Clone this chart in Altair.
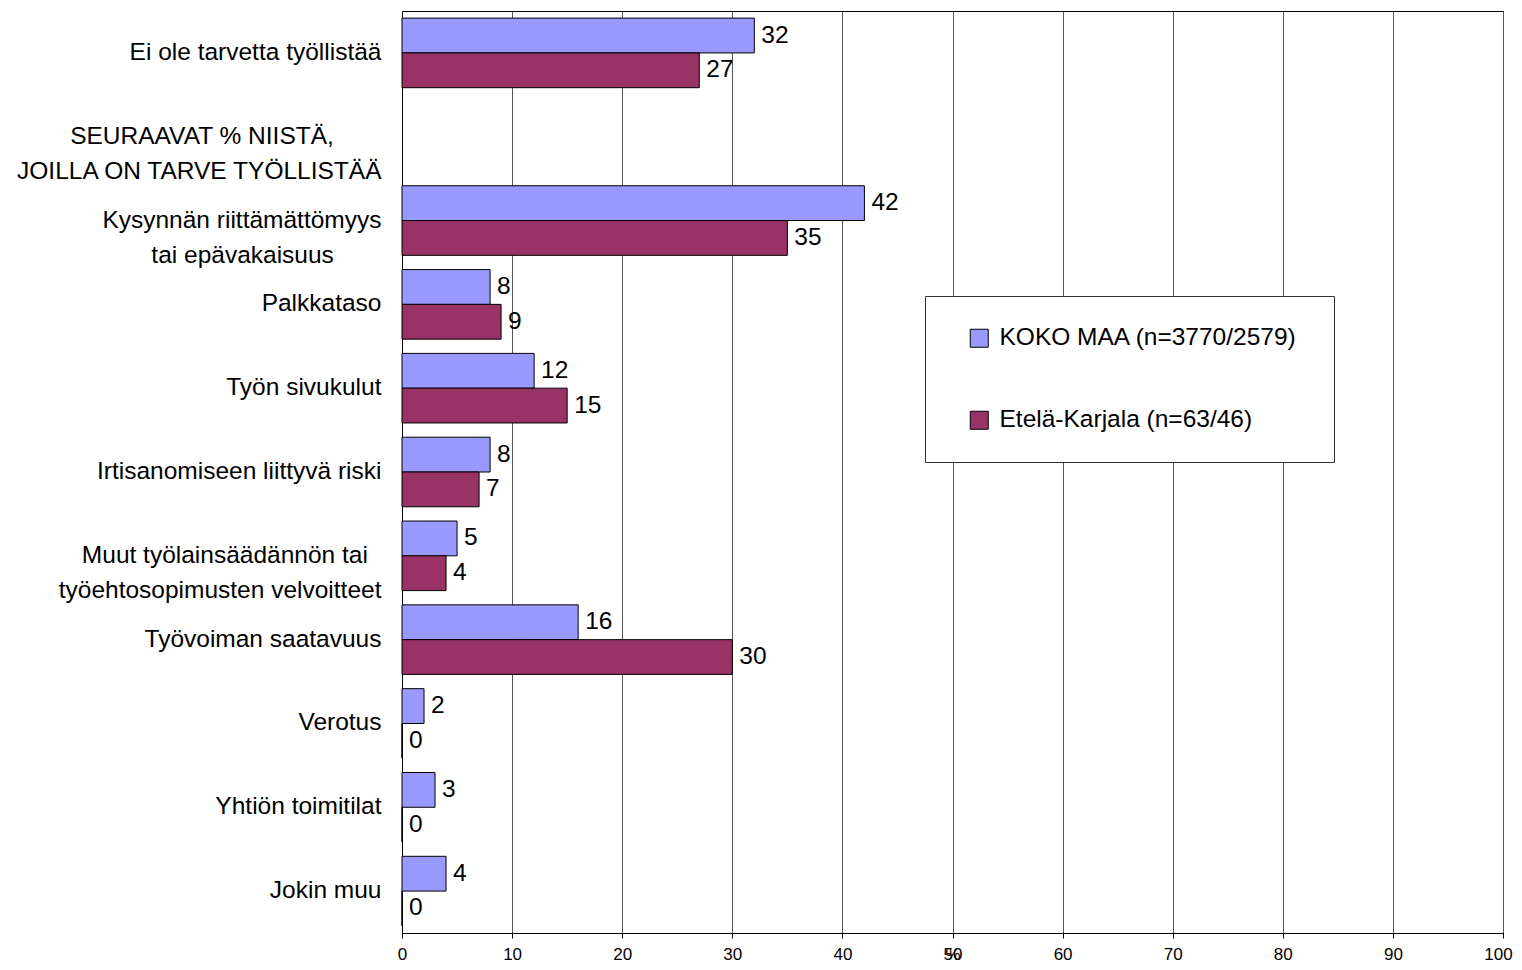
import altair as alt
import pandas as pd

NB = "\u00a0"
ZW = "\u200b"

categories = [
    "Ei ole tarvetta työllistää",
    "SEURAAVAT % NIISTÄ," + NB * 7 + ZW + "|JOILLA ON TARVE TYÖLLISTÄÄ",
    "Kysynnän riittämättömyys|tai epävakaisuus" + NB * 7 + ZW,
    "Palkkataso",
    "Työn sivukulut",
    "Irtisanomiseen liittyvä riski",
    "Muut työlainsäädännön tai" + NB * 2 + ZW + "|työehtosopimusten velvoitteet",
    "Työvoiman saatavuus",
    "Verotus",
    "Yhtiön toimitilat",
    "Jokin muu",
]
series = ["KOKO MAA (n=3770/2579)", "Etelä-Karjala (n=63/46)"]
koko_maa = [32, None, 42, 8, 12, 8, 5, 16, 2, 3, 4]
etela_karjala = [27, None, 35, 9, 15, 7, 4, 30, 0, 0, 0]
colors = ["#9999FF", "#993366"]
x_ticks = [0, 10, 20, 30, 40, 50, 60, 70, 80, 90, 100]

rows = []
for cat, a, b in zip(categories, koko_maa, etela_karjala):
    if a is not None:
        rows.append({"cat": cat, "series": series[0], "value": a})
    if b is not None:
        rows.append({"cat": cat, "series": series[1], "value": b})
df = pd.DataFrame(rows)

FONT = "Liberation Sans"

y_enc = alt.Y(
    "cat:N",
    sort=categories,
    scale=alt.Scale(domain=categories, paddingInner=0.17, paddingOuter=0.085),
    axis=alt.Axis(
        title=None,
        ticks=False,
        domainColor="black",
        labelFontSize=24.5,
        labelFont=FONT,
        labelColor="black",
        labelPadding=21,
        labelLimit=600,
        labelLineHeight=35,
        labelExpr="split(datum.label, '|')",
    ),
)
x_enc = alt.X(
    "value:Q",
    scale=alt.Scale(domain=[0, 100], nice=False),
    axis=alt.Axis(
        values=x_ticks,
        title="%",
        titleFontSize=17,
        titleFont=FONT,
        titleFontWeight="normal",
        titleColor="black",
        titleY=21,
        titleBaseline="middle",
        grid=True,
        gridColor="#555555",
        gridWidth=1,
        domainColor="black",
        tickColor="black",
        tickSize=5,
        labelFontSize=17,
        labelFont=FONT,
        labelColor="black",
        labelPadding=8,
        labelFlush=False,
        labelOffset={"expr": "datum.value == 100 ? -5 : 0"},
    ),
)
yoff = alt.YOffset("series:N", sort=series, scale=alt.Scale(domain=series))

bars = alt.Chart(df).mark_bar(stroke="black", strokeWidth=1).encode(
    x=x_enc,
    y=y_enc,
    yOffset=yoff,
    color=alt.Color(
        "series:N",
        sort=series,
        scale=alt.Scale(domain=series, range=colors),
        legend=alt.Legend(
            title=None,
            orient="none",
            legendX=523,
            legendY=285,
            padding=30,
            symbolOffset=12,
            fillColor="white",
            strokeColor="#333333",
            rowPadding=57,
            labelFontSize=24.5,
            labelFont=FONT,
            labelColor="black",
            labelOffset=8,
            labelLimit=600,
            symbolType="square",
            symbolSize=324,
            symbolStrokeColor="black",
            symbolStrokeWidth=1,
            symbolOpacity=1,
            labelExpr="datum.label + '" + NB + ZW + "'",
        ),
    ),
)

labels = alt.Chart(df).mark_text(
    align="left", baseline="middle", dx=7, fontSize=24.5, font=FONT, color="black"
).encode(
    x=alt.X("value:Q"),
    y=alt.Y("cat:N", sort=categories),
    yOffset=yoff,
    text=alt.Text("value:Q"),
)

chart = (
    alt.layer(bars, labels)
    .properties(
        width=1101,
        height=922,
        autosize=alt.AutoSizeParams(type="none"),
        padding={"left": 394, "top": 3, "right": 10, "bottom": 29},
        background="white",
    )
    .configure_view(stroke="black", strokeWidth=1)
)

chart.save("out.html", embed_options={"renderer": "svg", "actions": False})
